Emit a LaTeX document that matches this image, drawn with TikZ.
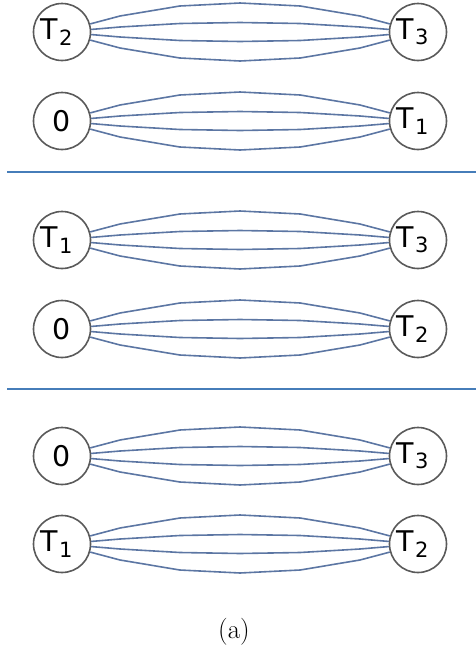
\documentclass[tikz,border=0pt]{standalone}
\usepackage{fontspec}
\newfontfamily\nodefont{DejaVu Sans}
\usetikzlibrary{calc}
\definecolor{edgeblue}{RGB}{92,118,163}
\definecolor{sepblue}{RGB}{70,125,185}
\definecolor{ringgray}{RGB}{90,90,90}
\newcommand{\Tlab}[1]{T\kern1pt\raisebox{-5.5pt}{\fontsize{21}{21}\selectfont #1}\kern11pt}
\newcommand{\edgebundle}[2]{%
  \foreach \s in {1,-1}{%
    \draw[edgeline] (#1.{16*\s}) -- ($(#1)!0.163!(#2)+(0,-16*\s)$) -- ($(#1)!0.331!(#2)+(0,-26*\s)$) -- ($(#1)!0.5!(#2)+(0,-29*\s)$) -- ($(#1)!0.669!(#2)+(0,-26*\s)$) -- ($(#1)!0.837!(#2)+(0,-16*\s)$) -- (#2.{180-16*\s});
    \draw[edgeline] (#1.{5*\s}) -- ($(#1)!0.163!(#2)+(0,-5*\s)$) -- ($(#1)!0.331!(#2)+(0,-8.5*\s)$) -- ($(#1)!0.5!(#2)+(0,-9.5*\s)$) -- ($(#1)!0.669!(#2)+(0,-8.5*\s)$) -- ($(#1)!0.837!(#2)+(0,-5*\s)$) -- (#2.{180-5*\s});
  }%
}
\begin{document}
\begin{tikzpicture}[x=1pt,y=-1pt,
  vert/.style={circle,draw=ringgray,line width=1.6pt,minimum size=57pt,inner sep=0pt,fill=white,
    font=\nodefont\fontsize{28.5}{28.5}\selectfont},
  edgeline/.style={draw=edgeblue,line width=1.6pt,line join=round},
  sepline/.style={draw=sepblue,line width=1.2pt}]
\useasboundingbox (0,0) rectangle (476,654);
% panel 1
\node[vert] (a1) at (62,32) {\makebox[0pt]{\Tlab{2}}};
\node[vert] (b1) at (418,32) {\makebox[0pt]{\Tlab{3}}};
\node[vert] (a2) at (62,121) {\makebox[0pt]{0}};
\node[vert] (b2) at (418,121) {\makebox[0pt]{\Tlab{1}}};
% panel 2
\node[vert] (c1) at (62,240) {\makebox[0pt]{\Tlab{1}}};
\node[vert] (d1) at (418,240) {\makebox[0pt]{\Tlab{3}}};
\node[vert] (c2) at (62,329) {\makebox[0pt]{0}};
\node[vert] (d2) at (418,329) {\makebox[0pt]{\Tlab{2}}};
% panel 3
\node[vert] (e1) at (62,456) {\makebox[0pt]{0}};
\node[vert] (f1) at (418,456) {\makebox[0pt]{\Tlab{3}}};
\node[vert] (e2) at (62,544) {\makebox[0pt]{\Tlab{1}}};
\node[vert] (f2) at (418,544) {\makebox[0pt]{\Tlab{2}}};
\edgebundle{a1}{b1}
\edgebundle{a2}{b2}
\edgebundle{c1}{d1}
\edgebundle{c2}{d2}
\edgebundle{e1}{f1}
\edgebundle{e2}{f2}
\coordinate (s1l) at (7,172); \coordinate (s1r) at (476,172);
\coordinate (s2l) at (7,389); \coordinate (s2r) at (476,389);
\draw[sepline] (s1l) -- (s1r);
\draw[sepline] (s2l) -- (s2r);
\node[font=\fontsize{27}{32}\selectfont] (cap) at (234,632) {(a)};
\end{tikzpicture}
\end{document}
